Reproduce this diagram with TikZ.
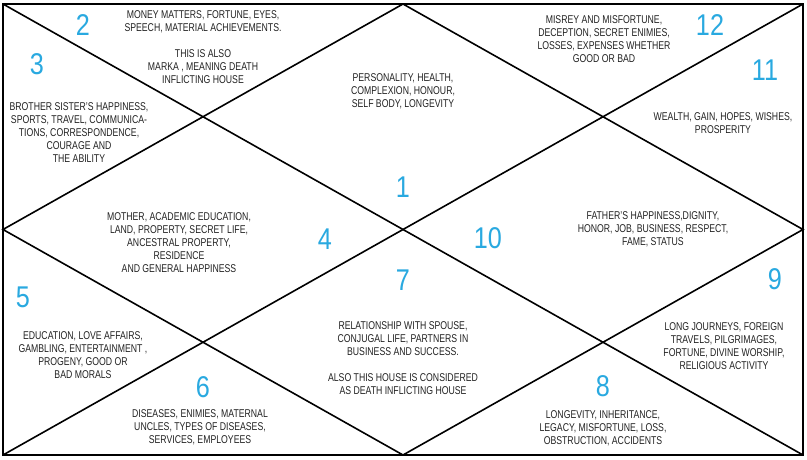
\documentclass[tikz,border=0pt]{standalone}
\usepackage{fontspec}
\setmainfont{Liberation Sans}[FakeStretch=0.77]
\newfontfamily\numfont{Liberation Sans}[FakeStretch=0.84]
\definecolor{textgray}{HTML}{222222}
\definecolor{numblue}{HTML}{29A9E0}
\begin{document}
\begin{tikzpicture}[x=1pt,y=1pt,
  chartline/.style={line width=1.6pt, black},
  txt/.style={align=center, font=\fontsize{11.3}{13}\selectfont, text=textgray, inner sep=0pt},
  num/.style={font=\numfont\fontsize{30}{30}\selectfont, text=numblue, inner sep=0pt}]
\useasboundingbox (0,0) rectangle (807,459);
\fill[white] (0,0) rectangle (807,459);
% corners and midpoints
\coordinate (bl) at (3,4);
\coordinate (br) at (803,4);
\coordinate (tr) at (803,455);
\coordinate (tl) at (3,455);
\coordinate (tm) at (403,455);
\coordinate (bm) at (403,4);
\coordinate (lm) at (3,229.5);
\coordinate (rm) at (803,229.5);
% lines
\draw[chartline] (bl) -- (tr);
\draw[chartline] (tl) -- (br);
\draw[chartline] (tm) -- (rm) -- (bm) -- (lm) -- cycle;
\draw[line width=2pt] (bl) rectangle (tr);
% house texts
\node[txt] (t2) at (203,412) {MONEY MATTERS, FORTUNE, EYES,\\SPEECH, MATERIAL ACHIEVEMENTS.\\[13pt]THIS IS ALSO\\MARKA , MEANING DEATH\\INFLICTING HOUSE};
\node[txt] (t3) at (79,326) {BROTHER SISTER'S HAPPINESS,\\SPORTS, TRAVEL, COMMUNICA-\\TIONS, CORRESPONDENCE,\\COURAGE AND\\THE ABILITY};
\node[txt] (t1) at (403,368) {PERSONALITY, HEALTH,\\COMPLEXION, HONOUR,\\SELF BODY, LONGEVITY};
\node[txt] (t12) at (604,419.5) {MISREY AND MISFORTUNE,\\DECEPTION, SECRET ENIMIES,\\LOSSES, EXPENSES WHETHER\\GOOD OR BAD};
\node[txt] (t11) at (723,335.5) {WEALTH, GAIN, HOPES, WISHES,\\PROSPERITY};
\node[txt] (t4) at (179,216.5) {MOTHER, ACADEMIC EDUCATION,\\LAND, PROPERTY, SECRET LIFE,\\ANCESTRAL PROPERTY,\\RESIDENCE\\AND GENERAL HAPPINESS};
\node[txt] (t10) at (653,230) {FATHER'S HAPPINESS,DIGNITY,\\HONOR, JOB, BUSINESS, RESPECT,\\FAME, STATUS};
\node[txt] (t5) at (83,103.5) {EDUCATION, LOVE AFFAIRS,\\GAMBLING, ENTERTAINMENT ,\\PROGENY, GOOD OR\\BAD MORALS};
\node[txt] (t7) at (403,100.5) {RELATIONSHIP WITH SPOUSE,\\CONJUGAL LIFE, PARTNERS IN\\BUSINESS AND SUCCESS.\\[13pt]ALSO THIS HOUSE IS CONSIDERED\\AS DEATH INFLICTING HOUSE};
\node[txt] (t9) at (724,112.5) {LONG JOURNEYS, FOREIGN\\TRAVELS, PILGRIMAGES,\\FORTUNE, DIVINE WORSHIP,\\RELIGIOUS ACTIVITY};
\node[txt] (t6) at (200,32) {DISEASES, ENIMIES, MATERNAL\\UNCLES, TYPES OF DISEASES,\\SERVICES, EMPLOYEES};
\node[txt] (t8) at (603,31) {LONGEVITY, INHERITANCE,\\LEGACY, MISFORTUNE, LOSS,\\OBSTRUCTION, ACCIDENTS};
% house numbers
\node[num] (n1) at (403,272) {1};
\node[num] (n2) at (83,434) {2};
\node[num] (n3) at (37,395) {3};
\node[num] (n4) at (325,220) {4};
\node[num] (n5) at (23,162) {5};
\node[num] (n6) at (203,72) {6};
\node[num] (n7) at (403,179) {7};
\node[num] (n8) at (603,73) {8};
\node[num] (n9) at (775,180) {9};
\node[num] (n10) at (488,221) {10};
\node[num] (n11) at (765,389) {11};
\node[num] (n12) at (710,434) {12};
\end{tikzpicture}
\end{document}
